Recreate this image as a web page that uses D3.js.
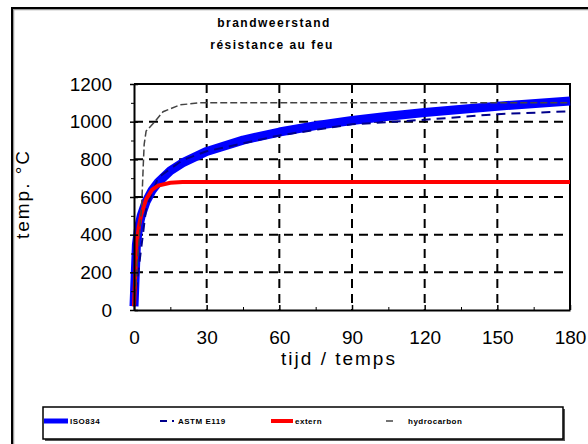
<!DOCTYPE html>
<html>
<head>
<meta charset="utf-8">
<script src="https://cdn.jsdelivr.net/npm/d3@7"></script>
<style>
  body { margin: 0; background: #fff; }
  svg { display: block; }
  text { font-family: "Liberation Sans", Arial, sans-serif; fill: #000; }
</style>
</head>
<body>
<div id="chart"></div>
<script>
// Series (minutes, degrees C)
var isoTime = [0, 1, 2, 3, 5, 7.5, 10, 15, 20, 30, 45, 60, 75, 90, 105, 120, 150, 180];
var isoTemp = [20, 349, 445, 502, 576, 636, 678, 739, 781, 842, 902, 945, 979, 1006, 1029, 1049, 1082, 1110];

var astmTime = [0, 5, 10, 20, 30, 60, 90, 120, 150, 180];
var astmTemp = [20, 538, 704, 795, 843, 927, 986, 1010, 1040, 1055];

var extTime = [0, 1, 2, 3, 5, 7.5, 10, 15, 20, 30, 180];
var extTemp = [20, 346, 441, 506, 588, 639, 661, 676, 680, 680, 680];

var hydroTime = [0, 3.2, 3.8, 4.2, 5, 8, 12, 19, 27, 60, 180];
var hydroTemp = [20, 560, 760, 880, 950, 991, 1053, 1089, 1100, 1100, 1100];

var xTicks = [0, 30, 60, 90, 120, 150, 180];
var yTicks = [0, 200, 400, 600, 800, 1000, 1200];
var legendLabels = ['ISO834', 'ASTM E119', 'extern', 'hydrocarbon'];

var W = 588, H = 444;
var margin = {top: 84, right: 18, bottom: 134, left: 134},
    width = W - margin.left - margin.right,
    height = H - margin.top - margin.bottom;

var svg = d3.select('#chart').append('svg')
    .attr('width', W)
    .attr('height', H);

// outer frame (only left and top edges show)
svg.append('rect')
    .attr('x', 13.5).attr('y', 9.5)
    .attr('width', 700).attr('height', 700)
    .attr('fill', 'none').attr('stroke', '#999').attr('stroke-width', 1.5);
svg.append('rect')
    .attr('x', 12).attr('y', 8)
    .attr('width', 700).attr('height', 700)
    .attr('fill', 'none').attr('stroke', '#000').attr('stroke-width', 2);

// title
svg.append('text').attr('x', 274).attr('y', 27)
    .attr('text-anchor', 'middle').style('font-size', '12px').style('font-weight', 'bold')
    .style('letter-spacing', '1.5px').text('brandweerstand');
svg.append('text').attr('x', 272).attr('y', 49)
    .attr('text-anchor', 'middle').style('font-size', '12px').style('font-weight', 'bold')
    .style('letter-spacing', '1.5px').text('résistance au feu');

var g = svg.append('g')
    .attr('transform', 'translate(' + margin.left + ',' + margin.top + ')');

var x = d3.scaleLinear().domain([0, 180]).range([0, width]);
var y = d3.scaleLinear().domain([0, 1200]).range([height, 0]);

// dashed grid
g.append('g').selectAll('line')
    .data(yTicks.filter(function(d) { return d > 0 && d < 1200; }))
    .enter().append('line')
    .attr('x1', 0).attr('x2', width)
    .attr('y1', function(d) { return y(d); }).attr('y2', function(d) { return y(d); })
    .attr('stroke', '#000').attr('stroke-width', 2).attr('stroke-dasharray', '9,6');
g.append('g').selectAll('line')
    .data(xTicks.filter(function(d) { return d > 0 && d < 180; }))
    .enter().append('line')
    .attr('y1', 0).attr('y2', height)
    .attr('x1', function(d) { return x(d); }).attr('x2', function(d) { return x(d); })
    .attr('stroke', '#000').attr('stroke-width', 2).attr('stroke-dasharray', '9,6');

// plot box top and right
g.append('path')
    .attr('d', 'M0,0H' + width + 'V' + height)
    .attr('fill', 'none').attr('stroke', '#000').attr('stroke-width', 2);

function line(times, temps) {
  return d3.line()
      .x(function(d, i) { return x(times[i]); })
      .y(function(d) { return y(d); })(temps);
}

g.append('path').attr('d', line(isoTime, isoTemp))
    .attr('fill', 'none').attr('stroke', '#0000ff').attr('stroke-width', 9)
    .attr('stroke-linejoin', 'round');
g.append('path').attr('d', line(astmTime, astmTemp))
    .attr('fill', 'none').attr('stroke', '#00008b').attr('stroke-width', 2)
    .attr('stroke-dasharray', '9,6');
g.append('path').attr('d', line(extTime, extTemp))
    .attr('fill', 'none').attr('stroke', '#ff0000').attr('stroke-width', 4);
g.append('path').attr('d', line(hydroTime, hydroTemp))
    .attr('fill', 'none').attr('stroke', '#444').attr('stroke-width', 1.5)
    .attr('stroke-dasharray', '7,3');

// axes
var yAxis = g.append('g')
    .call(d3.axisLeft(y).tickValues(yTicks).tickFormat(d3.format('d'))
      .tickSizeInner(4).tickSizeOuter(0).tickPadding(18));
yAxis.select('.domain').attr('stroke-width', 2);
yAxis.selectAll('.tick line').attr('x2', 4).attr('x1', -4).attr('stroke-width', 1.5);
yAxis.selectAll('text').style('font-size', '19px').style('font-family', '"Liberation Sans", Arial, sans-serif');

g.append('g')
    .call(d3.axisLeft(y).tickValues(d3.range(100, 1200, 200)).tickSize(3).tickFormat(''))
    .select('.domain').remove();

var xAxis = g.append('g')
    .attr('transform', 'translate(0,' + height + ')')
    .call(d3.axisBottom(x).tickValues(xTicks).tickFormat(d3.format('d'))
      .tickSizeInner(-5).tickSizeOuter(0).tickPadding(21));
xAxis.select('.domain').attr('stroke-width', 2);
xAxis.selectAll('.tick line').attr('stroke-width', 1.5);
xAxis.selectAll('text').style('font-size', '19px').style('font-family', '"Liberation Sans", Arial, sans-serif');

g.append('g')
    .attr('transform', 'translate(0,' + height + ')')
    .call(d3.axisBottom(x).tickValues(d3.range(15, 180, 30)).tickSize(-3).tickFormat(''))
    .select('.domain').remove();

// axis titles
svg.append('text')
    .attr('x', 339).attr('y', 365)
    .attr('text-anchor', 'middle').style('font-size', '19px').style('letter-spacing', '2px')
    .text('tijd / temps');
svg.append('text')
    .attr('transform', 'translate(29,194) rotate(-90)')
    .attr('text-anchor', 'middle').style('font-size', '19px').style('letter-spacing', '2px')
    .text('temp. °C');

// legend
var lg = svg.append('g');
lg.append('rect').attr('x', 45).attr('y', 409).attr('width', 520).attr('height', 32)
    .attr('fill', '#555');
lg.append('rect').attr('x', 43).attr('y', 407).attr('width', 520).attr('height', 32)
    .attr('fill', '#fff').attr('stroke', '#000').attr('stroke-width', 1.5);

var legendItems = [
  {x0: 44, x1: 68, tx: 70, color: '#0000ff', w: 5, dash: null},
  {x0: 160, x1: 174, tx: 178, color: '#00008b', w: 2, dash: '7,5'},
  {x0: 271, x1: 293, tx: 295, color: '#ff0000', w: 4, dash: null},
  {x0: 386, x1: 393, tx: 408, color: '#444', w: 1.5, dash: null}
];
legendItems.forEach(function(d, i) {
  lg.append('line').attr('x1', d.x0).attr('x2', d.x1).attr('y1', 421).attr('y2', 421)
      .attr('stroke', d.color).attr('stroke-width', d.w)
      .attr('stroke-dasharray', d.dash);
  lg.append('text').attr('x', d.tx).attr('y', 424)
      .style('font-size', '8px').style('font-weight', 'bold').style('letter-spacing', '0.5px')
      .text(legendLabels[i]);
});
</script>
</body>
</html>
